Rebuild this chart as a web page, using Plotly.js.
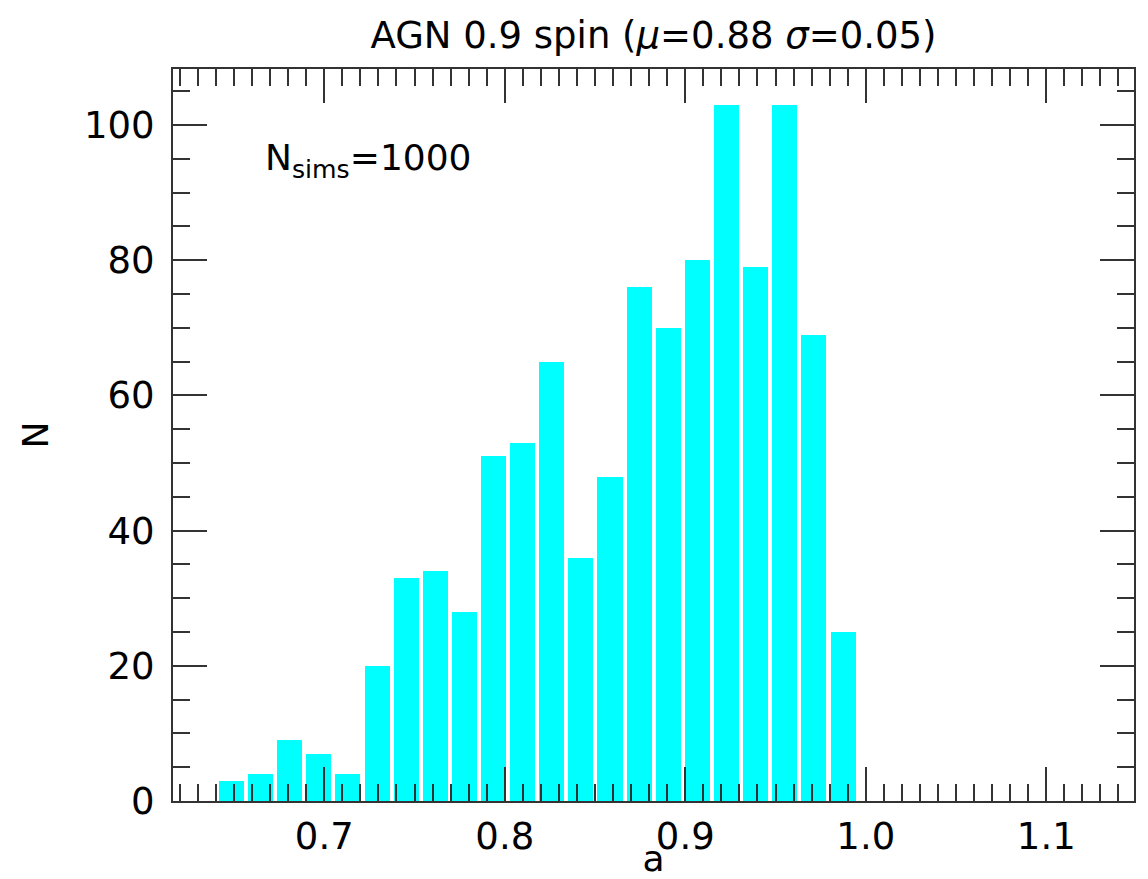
<!DOCTYPE html>
<html>
<head>
<meta charset="utf-8">
<script src="https://cdn.plot.ly/plotly-3.0.1.min.js"></script>
<style>
html,body{margin:0;padding:0;background:#fff;}
#chart{width:1148px;height:879px;}
</style>
</head>
<body>
<div id="chart"></div>
<script>
// Histogram bin centres (spin a)
var binCenters = [0.6486, 0.6647, 0.6809, 0.6970, 0.7131, 0.7293, 0.7454, 0.7615,
                  0.7777, 0.7938, 0.8099, 0.8261, 0.8422, 0.8583, 0.8745, 0.8906,
                  0.9067, 0.9229, 0.9390, 0.9551, 0.9713, 0.9874];
// Counts per bin
var counts = [3, 4, 9, 7, 4, 20, 33, 34, 28, 51, 53, 65, 36, 48, 76, 70, 80, 103, 79, 103, 69, 25];
// Tick labels
var xTickVals = [0.7, 0.8, 0.9, 1.0, 1.1];
var xTickText = ['0.7', '0.8', '0.9', '1.0', '1.1'];
var yTickVals = [0, 20, 40, 60, 80, 100];
var yTickText = ['0', '20', '40', '60', '80', '100'];

var binWidth = 0.01614;
var font = 'DejaVu Sans, sans-serif';
var axCol = '#333333';

var trace = {
  type: 'bar',
  x: binCenters,
  y: counts,
  width: binWidth * 0.86,
  marker: {color: '#00FFFF', line: {width: 0}},
  hoverinfo: 'x+y'
};

var common = {
  showline: true, linecolor: axCol, linewidth: 2, mirror: 'ticks',
  ticks: 'inside', tickcolor: axCol, tickwidth: 2, ticklen: 34,
  showgrid: false, zeroline: false,
  tickfont: {family: font, size: 37, color: '#000'}
};

var layout = {
  width: 1148, height: 879,
  margin: {l: 173, r: 14, t: 69, b: 78, pad: 0},
  paper_bgcolor: '#fff', plot_bgcolor: '#fff',
  showlegend: false,
  bargap: 0,
  title: {
    text: 'AGN 0.9 spin (<i>μ</i>=0.88 <i>σ</i>=0.05)',
    font: {family: font, size: 37, color: '#000'},
    x: 0.5, xref: 'paper', xanchor: 'center',
    y: 0.960, yref: 'container', yanchor: 'middle'
  },
  xaxis: Object.assign({}, common, {
    range: [0.6162, 1.1486],
    tickmode: 'array', tickvals: xTickVals, ticktext: xTickText,
    ticklabelstandoff: 2,
    minor: {dtick: 0.01, tick0: 0.6, ticks: 'inside', ticklen: 17, tickwidth: 2, tickcolor: axCol, showgrid: false},
    title: {text: 'a', font: {family: font, size: 36, color: '#000'}, standoff: 0}
  }),
  yaxis: Object.assign({}, common, {
    range: [0, 108.3],
    tickmode: 'array', tickvals: yTickVals, ticktext: yTickText,
    ticklabelstandoff: 9,
    minor: {dtick: 5, tick0: 0, ticks: 'inside', ticklen: 17, tickwidth: 2, tickcolor: axCol, showgrid: false},
    title: {text: 'N', font: {family: font, size: 36, color: '#000'}, standoff: 24}
  }),
  annotations: [{
    text: 'N<sub>sims</sub>=1000',
    xref: 'paper', yref: 'paper',
    x: (263 - 173) / 961, y: (801 - 160) / 732,
    xanchor: 'left', yanchor: 'middle',
    showarrow: false,
    font: {family: font, size: 36, color: '#000'}
  }]
};

Plotly.newPlot('chart', [trace], layout, {displayModeBar: false, staticPlot: true});
</script>
</body>
</html>
